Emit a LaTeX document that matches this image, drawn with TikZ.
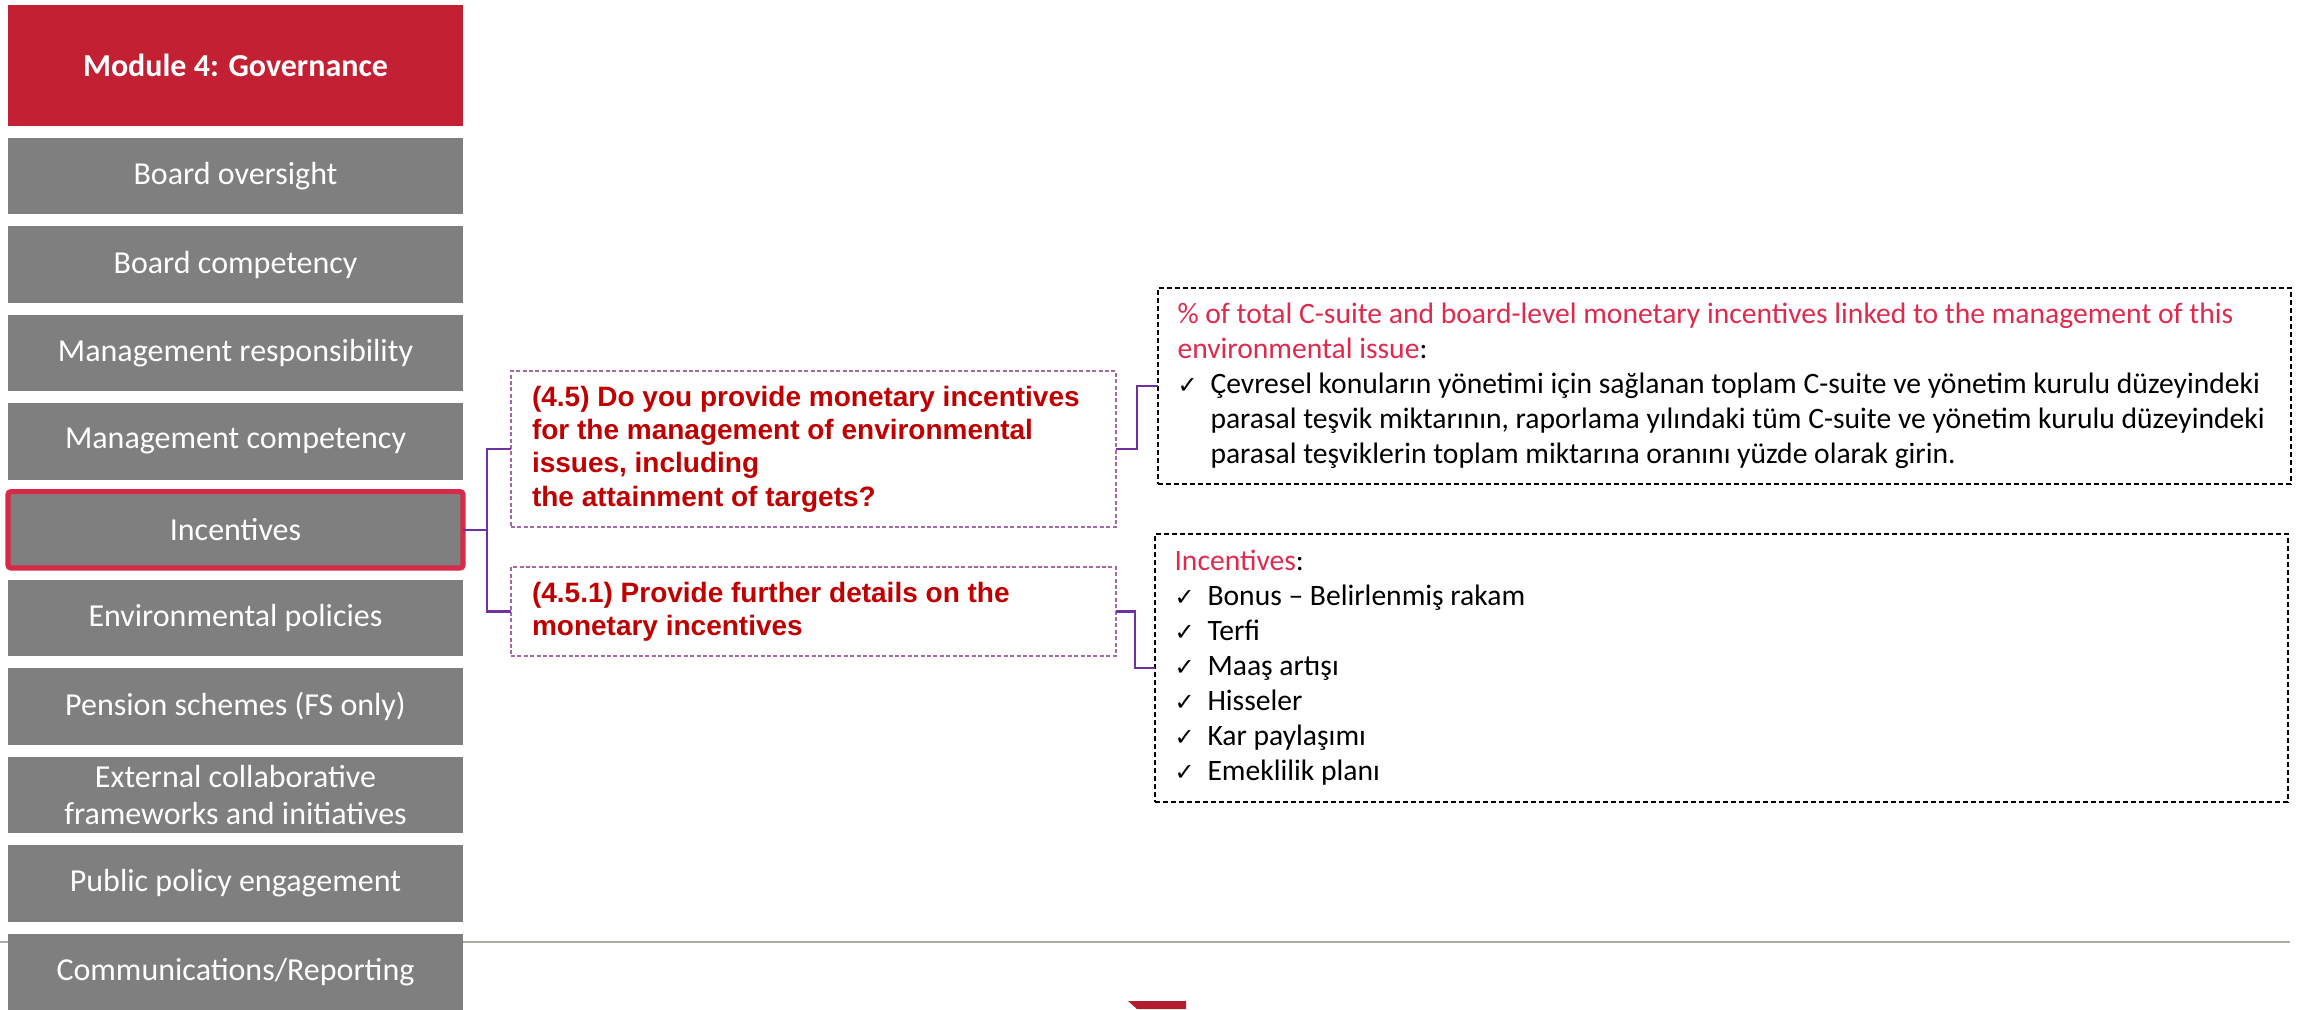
\documentclass[tikz,border=0pt]{standalone}
\usepackage{fontspec}
\setmainfont{Carlito}
\newfontfamily\qfont{Liberation Sans}
\newfontfamily\tickfont{DejaVu Sans}
\usepackage{tikz}
\usetikzlibrary{chains,positioning}
\definecolor{modred}{HTML}{C32034}
\definecolor{boxgray}{HTML}{7F7F7F}
\definecolor{selred}{HTML}{D62A48}
\definecolor{qred}{HTML}{C00000}
\definecolor{qpurple}{HTML}{A866AA}
\definecolor{linkpurple}{HTML}{7030A0}
\definecolor{anspink}{HTML}{DF2A4D}
\definecolor{rulegray}{HTML}{ADADA5}
\tikzstyle{topic}=[fill=boxgray,text=white,minimum width=227.5pt,minimum height=38.2pt,inner sep=0pt,outer sep=0pt,align=center,font=\fontsize{16}{18.5}\selectfont]
\tikzstyle{module}=[topic,fill=modred,minimum height=60.5pt,font=\fontsize{16}{18.5}\selectfont\bfseries]
\tikzstyle{current}=[draw=selred,line width=2.6pt,rounded corners=1.5pt]
\tikzstyle{question}=[draw=qpurple,dashed,dash pattern=on 2pt off 1.2pt,line width=0.75pt,text=qred,text width=281.5pt,inner xsep=10.5pt,inner ysep=4pt,outer sep=0pt,align=flush left,font=\qfont\bfseries\fontsize{14}{16.65}\selectfont]
\tikzstyle{answer}=[draw,dash pattern=on 2.5pt off 1.5pt,line width=0.8pt,text width=547pt,inner xsep=9.75pt,inner ysep=4pt,outer sep=0pt,align=flush left,font=\fontsize{14.8}{17.5}\selectfont]
\tikzstyle{link}=[draw=linkpurple,line width=1.25pt]
\newcommand{\ansmark}{\makebox[16.5pt][l]{\tickfont\fontsize{12}{12}\selectfont\char"2713}}
\newcommand{\ansindent}{\hspace*{16.5pt}}

\begin{document}
\begin{tikzpicture}[x=0.5pt,y=-0.5pt]
\useasboundingbox (0,0) rectangle (2305,1009);
\draw [rulegray,line width=1.25pt] (0,942) -- (2290,942);
\fill [modred!92!black] (1128,1001) -- (1186,1001) -- (1186,1009) -- (1137,1009) -- cycle;
\begin{scope}[start chain=topics going below, node distance=6pt]
    \node [on chain,module] (mod) at (235.5,65.5) {Module 4: Governance};
    \node [on chain,topic] {Board oversight};
    \node [on chain,topic] {Board competency};
    \node [on chain,topic] {Management responsibility};
    \node [on chain,topic] {Management competency};
    \node [on chain,topic,current] (incent) {Incentives};
    \node [on chain,topic] {Environmental policies};
    \node [on chain,topic] {Pension schemes (FS only)};
    \node [on chain,topic] {External collaborative\\frameworks and initiatives};
    \node [on chain,topic] {Public policy engagement};
    \node [on chain,topic] {Communications/Reporting};
\end{scope}
\node [question,minimum height=78pt,anchor=north west] (q1) at (511,371)
    {(4.5) Do you provide monetary incentives\\for the management of environmental\\issues, including\\the attainment of targets?};
\node [question,minimum height=44.5pt,below=20pt of q1.south west,anchor=north west] (q2)
    {(4.5.1) Provide further details on the\\monetary incentives};
\node [answer,minimum height=98pt,anchor=north west] (a1) at (1158,288)
    {{\color{anspink}\% of total C-suite and board-level monetary incentives linked to the management of this\\environmental issue}:\\
    \ansmark Çevresel konuların yönetimi için sağlanan toplam C-suite ve yönetim kurulu düzeyindeki\\
    \ansindent parasal teşvik miktarının, raporlama yılındaki tüm C-suite ve yönetim kurulu düzeyindeki\\
    \ansindent parasal teşviklerin toplam miktarına oranını yüzde olarak girin.};
\node [answer,minimum height=134pt,anchor=north west] (a2) at (1155,534)
    {{\color{anspink}Incentives}:\\
    \ansmark Bonus – Belirlenmiş rakam\\
    \ansmark Terfi\\
    \ansmark Maaş artışı\\
    \ansmark Hisseler\\
    \ansmark Kar paylaşımı\\
    \ansmark Emeklilik planı};
\coordinate (fork) at ([xshift=12pt]incent.east);
\draw [link] (incent.east) -- (fork) |- (q1.west);
\draw [link] (fork) |- (q2.west);
\draw [link] (q1.east) -- ([xshift=10.5pt]q1.east) |- (a1.west);
\draw [link] (q2.east) -- ([xshift=9.5pt]q2.east) |- (a2.west);
\end{tikzpicture}
\end{document}
